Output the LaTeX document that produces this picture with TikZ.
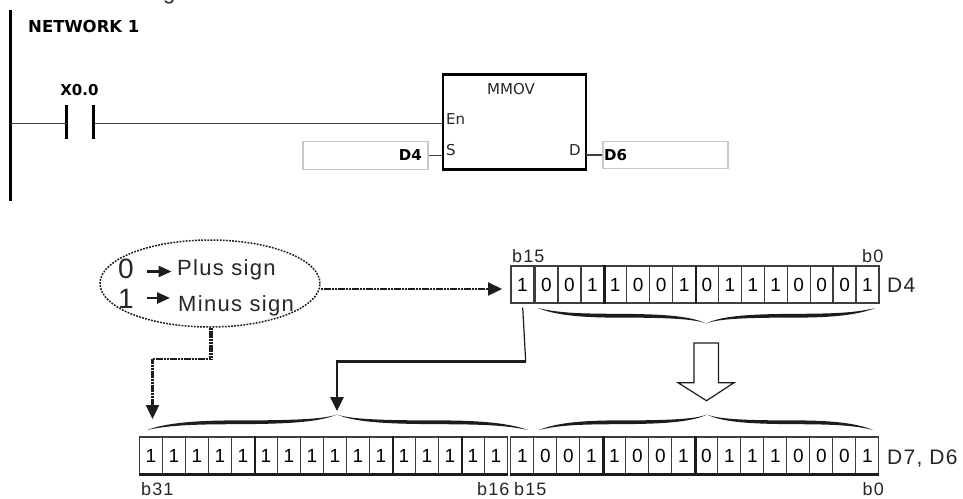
\documentclass[tikz,border=0pt]{standalone}
\usepackage{fontspec}
\setmainfont{Liberation Sans}
\newfontfamily\plcfont{DejaVu Sans}
\newfontfamily\widefont[LetterSpace=6]{Liberation Sans}
\usetikzlibrary{arrows.meta, positioning, shapes.geometric}
\definecolor{inkblack}{RGB}{30,28,26}
\definecolor{boxgray}{RGB}{200,200,200}
\newcommand{\plcsize}[1]{\fontsize{#1}{#1}\selectfont\plcfont}
\newcommand{\widesize}[1]{\fontsize{#1}{#1}\selectfont\widefont}

\begin{document}
\begin{tikzpicture}[
  x=1pt, y=-1pt,
  plc/.style={inner sep=0pt, font=\plcsize{15}, color=black!85},
  plcbold/.style={inner sep=0pt, font=\plcsize{15}\bfseries},
  operand/.style={draw=boxgray, line width=1.2pt, minimum width=125pt, minimum height=27.5pt, inner sep=2pt},
  wire/.style={line width=1.6pt, color=black!75},
  bar/.style={line width=2.4pt, color=black},
  bitcell/.style={draw=inkblack!85, line width=1.3pt, minimum width=23pt, minimum height=37pt,
              inner sep=0pt, text height=13.5pt, text depth=0pt, font=\widesize{19}},
  tag/.style={inner sep=0pt, anchor=base west, font=\widesize{#1}, color=black!85},
  dotline/.style={line width=#1, color=inkblack, dash pattern=on 2.2pt off 0.6pt},
  tip/.style={-{Triangle[length=14pt, width=13pt]}},
  signarr/.style={-{Triangle[length=13pt, width=11pt]}, line width=2.5pt, color=inkblack},
  halfbrace/.pic={
    \fill[inkblack] (0,0) .. controls (.12,5) and (.25,5.6) .. (.45,5.8)
      .. controls (.7,6) and (.9,7) .. (1,15.5)
      .. controls (.92,10) and (.7,9.6) .. (.45,9.6)
      .. controls (.25,9.4) and (.1,7) .. (0,0) -- cycle;
  }
]
\useasboundingbox (0,0) rectangle (963,498);

\node[tag=22] (cutg) at (163,-1) {g};

\coordinate (railtop) at (10.5,10);
\coordinate (railend) at (10.5,201);
\draw[line width=3pt] (railtop) -- (railend);
\node[plcbold, anchor=base west, font=\plcsize{16.5}\bfseries] (net) at (28,32) {NETWORK 1};

\coordinate (rung) at (10.5,123.5);
\node[minimum width=0pt, minimum height=34pt, inner sep=0pt, outer sep=0pt] (contl) at (66.5,122) {};
\node[minimum width=0pt, minimum height=34pt, inner sep=0pt, outer sep=0pt] (contr) at (93.5,122) {};
\draw[bar] (contl.north) -- (contl.south);
\draw[bar] (contr.north) -- (contr.south);
\node[plcbold] (xin) at (79.5,90) {X0.0};

\node[draw, line width=2.6pt, minimum width=143pt, minimum height=95pt, inner sep=0pt, outer sep=0pt] (mmov) at (514.5,122) {};
\node[plc, anchor=base] (mmovname) at (511,94) {MMOV};
\node[plc, anchor=base west] (en) at (446,124) {En};
\node[plc, anchor=base west] (sin) at (446,155) {S};
\node[plc, anchor=base west] (dout) at (569,155) {D};
\draw[wire] (rung) -- (contl.center |- rung);
\draw[wire] (contr.center |- rung) -- (mmov.west |- rung);

\node[operand, align=right] (d4box) at (365.5,155.5) {};
\node[plcbold, anchor=east] (d4name) at (422,155) {D4};
\node[operand] (d6box) at (665.5,155) {};
\node[plcbold, anchor=west] (d6name) at (604,155) {D6};
\draw[wire] (d4box.east) -- (mmov.west |- d4box.east);
\draw[wire] (mmov.east |- d6box.west) -- (d6box.west);

\node[draw=inkblack, ellipse, line width=1.5pt, dash pattern=on 1.8pt off 1.3pt, minimum width=220pt, minimum height=87pt, inner sep=0pt] (signs) at (210,283.5) {};
\node[tag=28] (zero) at (118,278) {0};
\node[tag=28] (one) at (118,308) {1};
\node[tag=22] (plus) at (177,275) {Plus sign};
\node[tag=22] (minus) at (178,311) {Minus sign};
\coordinate (zeroout) at (147,271.5);
\coordinate (zeroin) at (171.5,271.5);
\coordinate (oneout) at (147,298);
\coordinate (onein) at (170,298);
\draw[signarr] (zeroout) -- (zeroin);
\draw[signarr] (oneout) -- (onein);

\node[bitcell] (src1) at (522.5,284.5) {1};
\foreach \bit [count=\i from 2] in {0,0,1,1,0,0,1,0,1,1,1,0,0,0,1}
  \node[bitcell, minimum width=22.93pt] (src\i) at ({546.47+22.93*(\i-2)},284.5) {\bit};
\foreach \i in {4,8}
  \draw[line width=2.6pt, color=inkblack] (src\i.north east) -- (src\i.south east);

\foreach \i in {1,...,16}
  \node[bitcell] (hi\i) at ({151+23*(\i-1)},455.5) {1};
\foreach \bit [count=\i] in {1,0,0,1,1,0,0,1,0,1,1,1,0,0,0,1}
  \node[bitcell] (lo\i) at ({522.3+23*(\i-1)},455.5) {\bit};
\foreach \i in {5,11,14}
  \draw[line width=2.6pt, color=inkblack] (hi\i.north east) -- (hi\i.south east);
\foreach \i in {4,8}
  \draw[line width=2.6pt, color=inkblack] (lo\i.north east) -- (lo\i.south east);
\draw[line width=2.6pt, color=inkblack] (hi1.south west) -- (hi16.south east);
\draw[line width=2.6pt, color=inkblack] (lo1.south west) -- (lo16.south east);

\node[tag=18] (b15top) at (512,262) {b15};
\node[tag=18] (b0top) at (862,262) {b0};
\node[tag=21] (d4tag) at (887,292) {D4};
\node[tag=18] (b31) at (141,495.5) {b31};
\node[tag=18] (b16) at (477,495.5) {b16};
\node[tag=18] (b15low) at (514,495.5) {b15};
\node[tag=18] (b0low) at (862.5,495.5) {b0};
\node[tag=21] (d76tag) at (887,464) {D7, D6};

\pic[xscale=168] at (538,308) {halfbrace};
\pic[xscale=-169] at (875,308) {halfbrace};
\pic[xscale=190, yscale=-1] at (147,430) {halfbrace};
\pic[xscale=-191, yscale=-1] at (528,430) {halfbrace};
\pic[xscale=168, yscale=-1] at (539,430) {halfbrace};
\pic[xscale=-166, yscale=-1] at (873,430) {halfbrace};

\coordinate (srcin) at (502,289);
\coordinate (signdrop) at (211,359);
\coordinate (signturn) at (152.5,359);
\coordinate (signtip) at (152.5,419);
\draw[dotline=2.2pt, tip] (signs.east |- srcin) -- (srcin);
\draw[dotline=3.8pt] (signs.south -| signdrop) -- (signdrop);
\draw[dotline=2.4pt, tip] (signdrop) -- (signturn) -- (signtip);

\coordinate (msbbend) at (525.7,361.7);
\coordinate (msbturn) at (337,361.7);
\coordinate (msbtip) at (337,411);
\draw[line width=1.2pt, color=inkblack, shorten <=4pt] (src1.south) -- (msbbend);
\draw[line width=2.8pt, color=inkblack, tip] (msbbend) -- (msbturn) -- (msbtip);

\draw[line width=1.2pt, color=inkblack] (694,343) -- (718.5,343) -- (718.5,382.7) -- (734,382.7)
  -- (706.5,400.7) -- (678,382.7) -- (694,382.7) -- cycle;

\end{tikzpicture}
\end{document}
